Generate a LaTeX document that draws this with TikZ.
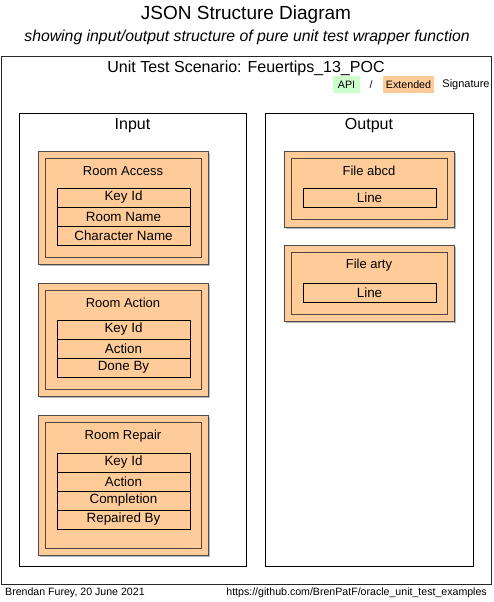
\documentclass[tikz,border=0pt]{standalone}
\usepackage{fontspec}
\setmainfont{Liberation Sans}
\definecolor{orangefill}{HTML}{FFCC99}
\definecolor{greenfill}{HTML}{CCFFCC}
\definecolor{innerc}{HTML}{54463A}
\newcommand{\fsz}[1]{\fontsize{#1}{#1}\selectfont}
\begin{document}
\begin{tikzpicture}[x=1pt,y=-1pt,
  container/.style={draw=black, line width=1pt, fill=white, inner sep=0pt, outer sep=0pt, anchor=north west},
  grp/.style={draw=black!70, line width=1pt, fill=orangefill, inner sep=0pt, outer sep=0pt, anchor=north west},
  shade/.style={draw=none, fill=black!28, inner sep=0pt, outer sep=0pt, anchor=north west},
  innerframe/.style={draw=innerc, line width=1pt, fill=orangefill, inner sep=0pt, outer sep=0pt, anchor=north west},
  field/.style={draw=black, line width=0.8pt, fill=orangefill, inner sep=0pt, outer sep=0pt, anchor=north west, minimum width=133pt, minimum height=19pt, font=\fsz{13.4}},
  ttl/.style={inner sep=0pt, font=\fsz{13}},
  legendbox/.style={draw=none, inner sep=0pt, outer sep=0pt, anchor=north west, minimum height=17pt, font=\fsz{10.7}},
  plain/.style={inner sep=0pt}
]
\useasboundingbox (0,0) rectangle (493,602);
% titles
\node[plain, font=\fsz{19}] (title) at (246,15) {JSON Structure Diagram};
\node[plain, font=\fsz{15.8}\itshape] (subtitle) at (247,37) {showing input/output structure of pure unit test wrapper function};
% outer frame
\node[container, draw=black!85, minimum width=490pt, minimum height=527pt] (scenario) at (1,57) {};
\node[plain, font=\fsz{16}] (scenariotitle) at (246,68) {Unit Test Scenario: Feuertips\_13\_POC};
% legend
\node[legendbox, fill=greenfill, minimum width=27pt] (api) at (333,76) {API};
\node[plain, font=\fsz{10.7}] (slash) at (371,85) {/};
\node[legendbox, fill=orangefill, minimum width=51pt] (ext) at (383,76) {Extended};
\node[plain, font=\fsz{11}] (sig) at (466,85) {Signature};
% Input / Output
\node[container, minimum width=227pt, minimum height=453pt] (input) at (19,113) {};
\node[plain, font=\fsz{16}] (inputtitle) at (132.5,126) {Input};
\node[container, minimum width=208pt, minimum height=453pt] (output) at (265,113) {};
\node[plain, font=\fsz{16}] (outputtitle) at (369,126) {Output};
% Room Access
\node[shade, minimum width=170pt, minimum height=113pt] (accshade) at (40,153) {};
\node[grp, minimum width=170pt, minimum height=113pt] (access) at (38,151) {};
\node[innerframe, minimum width=156pt, minimum height=99pt] (accessin) at (45,158) {};
\node[ttl] (accesst) at (123,171) {Room Access};
\node[field] (acc1) at (57,188) {Key Id};
\node[field] (acc2) at (57,207) {Room Name};
\node[field] (acc3) at (57,226) {Character Name};
% Room Action
\node[shade, minimum width=170pt, minimum height=113pt] (actshade) at (40,285) {};
\node[grp, minimum width=170pt, minimum height=113pt] (action) at (38,283) {};
\node[innerframe, minimum width=156pt, minimum height=99pt] (actionin) at (45,290) {};
\node[ttl] (actiont) at (123,303) {Room Action};
\node[field] (act1) at (57,320) {Key Id};
\node[field] (act2) at (57,339) {Action};
\node[field] (act3) at (57,358) {Done By};
% Room Repair
\node[shade, minimum width=170pt, minimum height=140pt] (repshade) at (40,417) {};
\node[grp, minimum width=170pt, minimum height=140pt] (repair) at (38,415) {};
\node[innerframe, minimum width=156pt, minimum height=126pt] (repairin) at (45,422) {};
\node[ttl] (repairt) at (123,436) {Room Repair};
\node[field] (rep1) at (57,453) {Key Id};
\node[field] (rep2) at (57,472) {Action};
\node[field] (rep3) at (57,491) {Completion};
\node[field] (rep4) at (57,510) {Repaired By};
% File abcd
\node[shade, minimum width=170pt, minimum height=76pt] (abshade) at (286,153) {};
\node[grp, minimum width=170pt, minimum height=76pt] (fileab) at (284,151) {};
\node[innerframe, minimum width=156pt, minimum height=61pt] (fileabin) at (291,158) {};
\node[ttl] (fileabt) at (369,171) {File abcd};
\node[field] (ab1) at (303,188) {Line};
% File arty
\node[shade, minimum width=170pt, minimum height=76pt] (arshade) at (286,247) {};
\node[grp, minimum width=170pt, minimum height=76pt] (filear) at (284,245) {};
\node[innerframe, minimum width=156pt, minimum height=62pt] (filearin) at (291,252) {};
\node[ttl] (fileart) at (369,265) {File arty};
\node[field] (ar1) at (303,283) {Line};
% footer
\node[plain, anchor=west, font=\fsz{10.6}] (author) at (5,593) {Brendan Furey, 20 June 2021};
\node[plain, anchor=east, font=\fsz{10.6}] (url) at (487,593) {https://github.com/BrenPatF/oracle\_unit\_test\_examples};
\end{tikzpicture}
\end{document}
